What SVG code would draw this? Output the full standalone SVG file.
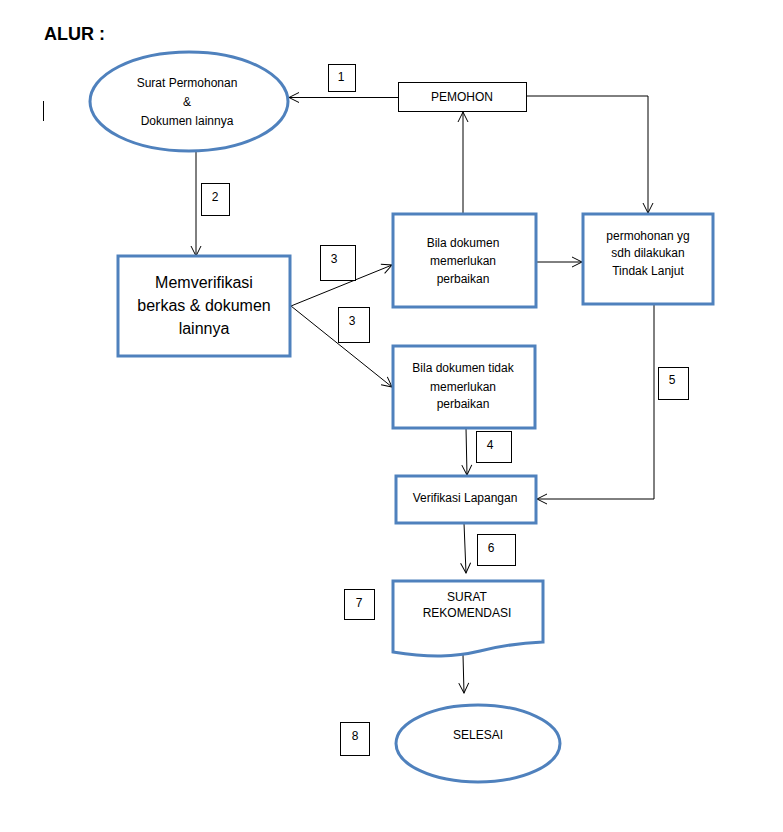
<svg xmlns="http://www.w3.org/2000/svg" width="783" height="832" viewBox="0 0 783 832">
<defs>
<marker id="arr" viewBox="0 0 12 12" refX="11" refY="6" markerWidth="12" markerHeight="12" markerUnits="userSpaceOnUse" orient="auto">
<path d="M1,1 L11,6 L1,11" fill="none" stroke="#000" stroke-width="1"/>
</marker>
</defs>
<style>
text{font-family:"Liberation Sans",Arial,sans-serif;fill:#000;text-anchor:middle}
.t{font-size:12px}
.big{font-size:16px}
.blue{fill:#fff;stroke:#4F81BD;stroke-width:3}
.thin{fill:#fff;stroke:#000;stroke-width:1}
.c{fill:none;stroke:#000;stroke-width:1;marker-end:url(#arr)}
.n{font-size:12px}
</style>
<rect width="783" height="832" fill="#fff"/>
<text x="44" y="40" style="font-size:18px;font-weight:bold;text-anchor:start">ALUR :</text>
<line x1="43.5" y1="101" x2="43.5" y2="121" stroke="#000" stroke-width="1"/>

<g id="connectors">
<path class="c" d="M398,97.5 H289"/>
<path class="c" d="M196,151 V256"/>
<path class="c" d="M526,96 H648 V213"/>
<path class="c" d="M463,214 V112"/>
<path class="c" d="M291,306 L392,265"/>
<path class="c" d="M291,306 L392,387"/>
<path class="c" d="M536,262 H582"/>
<path class="c" d="M654,304 V499 H537"/>
<path class="c" d="M466,428 L467,475"/>
<path class="c" d="M464,523 L466,573"/>
<path class="c" d="M463,655 L464,693"/>
</g>

<g id="n-title-start">
<ellipse class="blue" cx="189" cy="101.5" rx="99" ry="49.5"/>
<text class="t" x="187" y="87">Surat Permohonan</text>
<text class="t" x="187" y="106">&amp;</text>
<text class="t" x="187" y="125">Dokumen lainnya</text>
</g>
<g id="n-pemohon">
<rect class="thin" x="398.5" y="82.5" width="128" height="29"/>
<text class="t" x="462" y="101">PEMOHON</text>
</g>
<g id="n-verif-berkas">
<rect class="blue" x="118" y="256" width="172" height="100"/>
<text class="big" x="204" y="288">Memverifikasi</text>
<text class="big" x="204" y="311">berkas &amp; dokumen</text>
<text class="big" x="204" y="334">lainnya</text>
</g>
<g id="n-perbaikan">
<rect class="blue" x="393" y="214" width="143" height="93"/>
<text class="t" x="463" y="247">Bila dokumen</text>
<text class="t" x="463" y="265">memerlukan</text>
<text class="t" x="463" y="283">perbaikan</text>
</g>
<g id="n-tindaklanjut">
<rect class="blue" x="583" y="214" width="130" height="90"/>
<text class="t" x="648" y="240">permohonan yg</text>
<text class="t" x="648" y="257">sdh dilakukan</text>
<text class="t" x="648" y="275">Tindak Lanjut</text>
</g>
<g id="n-tidak-perbaikan">
<rect class="blue" x="393" y="346" width="142" height="82"/>
<text class="t" x="463" y="372">Bila dokumen tidak</text>
<text class="t" x="463" y="391">memerlukan</text>
<text class="t" x="463" y="408">perbaikan</text>
</g>
<g id="n-lapangan">
<rect class="blue" x="396" y="476" width="140" height="47"/>
<text class="t" x="465" y="502">Verifikasi Lapangan</text>
</g>
<g id="n-rekomendasi">
<path class="blue" d="M393,581 H543 V642 C520,643 500,646 480,651 C455,657 430,658 393,652 Z"/>
<text class="t" x="467" y="601">SURAT</text>
<text class="t" x="467" y="617">REKOMENDASI</text>
</g>
<g id="n-selesai">
<ellipse class="blue" cx="478" cy="743.5" rx="82" ry="38.5"/>
<text class="t" x="478" y="739">SELESAI</text>
</g>

<g id="labels">
<rect class="thin" x="328.5" y="64.5" width="27" height="27"/><text class="n" x="341" y="81">1</text>
<rect class="thin" x="201.5" y="183.5" width="28" height="32"/><text class="n" x="215" y="201">2</text>
<rect class="thin" x="320.5" y="245.5" width="35" height="35"/><text class="n" x="334" y="263">3</text>
<rect class="thin" x="338.5" y="307.5" width="31" height="35"/><text class="n" x="352" y="325">3</text>
<rect class="thin" x="476.5" y="431.5" width="35" height="31"/><text class="n" x="490" y="449">4</text>
<rect class="thin" x="658.5" y="367.5" width="30" height="32"/><text class="n" x="672" y="384">5</text>
<rect class="thin" x="477.5" y="534.5" width="38" height="31"/><text class="n" x="491" y="552">6</text>
<rect class="thin" x="344.5" y="589.5" width="30" height="30"/><text class="n" x="359" y="607">7</text>
<rect class="thin" x="340.5" y="722.5" width="29" height="33"/><text class="n" x="355" y="740">8</text>
</g>
</svg>
